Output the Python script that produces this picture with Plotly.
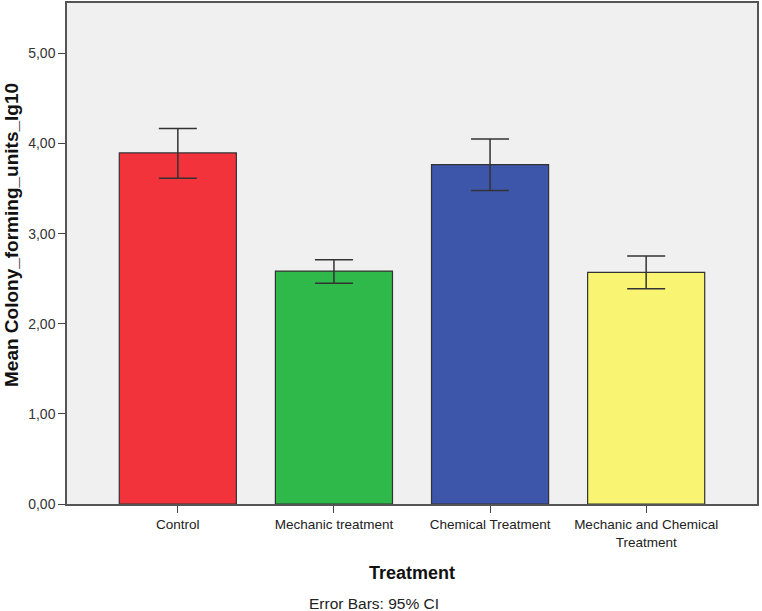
import plotly.graph_objects as go

categories = ["Control", "Mechanic treatment", "Chemical Treatment", "Mechanic and Chemical<br>Treatment"]
means = [3.896, 2.585, 3.767, 2.570]
ci_upper = [4.167, 2.711, 4.051, 2.751]
ci_lower = [3.614, 2.451, 3.478, 2.389]
colors = ["#F2333B", "#2EB94A", "#3E56A9", "#F9F573"]
y_ticks = [0, 1, 2, 3, 4, 5]
y_tick_labels = ["0,00", "1,00", "2,00", "3,00", "4,00", "5,00"]

err_plus = [u - m for u, m in zip(ci_upper, means)]
err_minus = [m - l for m, l in zip(means, ci_lower)]

fig = go.Figure()
fig.add_trace(go.Bar(
    x=list(range(len(categories))),
    y=means,
    width=0.75,
    marker=dict(color=colors, line=dict(color="#333333", width=1.2)),
    error_y=dict(type="data", symmetric=False, array=err_plus, arrayminus=err_minus,
                 color="#333333", thickness=1.5, width=19),
    showlegend=False,
))

fig.update_layout(
    width=762, height=611,
    margin=dict(l=67, r=5, t=3, b=107, autoexpand=False),
    paper_bgcolor="white",
    plot_bgcolor="#F0F0F0",
    font=dict(family="Liberation Sans, Arial, sans-serif", color="#222222"),
    xaxis=dict(
        range=[-0.71, 3.71],
        tickmode="array", tickvals=list(range(len(categories))), ticktext=categories,
        ticks="outside", ticklen=7, tickcolor="#444444",
        showgrid=False, zeroline=False,
        showline=True, linecolor="#555555", linewidth=1.5, mirror=True,
        tickfont=dict(size=13.5, color="#222222"),
        title=dict(text="<b>Treatment</b>", font=dict(size=18, color="#111111"), standoff=18),
    ),
    yaxis=dict(
        range=[0, 5.56],
        tickmode="array", tickvals=y_ticks, ticktext=y_tick_labels,
        ticks="outside", ticklen=7, tickcolor="#444444",
        showgrid=False, zeroline=False,
        showline=True, linecolor="#555555", linewidth=1.5, mirror=True,
        tickfont=dict(size=14, color="#333333"),
    ),
    annotations=[
        dict(
            text="Error Bars: 95% CI", xref="paper", yref="paper",
            x=(374 - 67) / 690, y=-(603 - 504) / 501, xanchor="center", yanchor="middle",
            showarrow=False, font=dict(size=15.5, color="#222222"),
        ),
        dict(
            text="<b>Mean Colony_forming_units_lg10</b>", xref="paper", yref="paper",
            x=-(67 - 11) / 690, y=(504 - 235) / 501, xanchor="center", yanchor="middle",
            textangle=-90, showarrow=False, font=dict(size=19, color="#111111"),
        ),
    ],
)

fig.write_html("out.html", config={"displayModeBar": False},
               post_script="document.body.style.margin='0';document.body.style.padding='0';")
